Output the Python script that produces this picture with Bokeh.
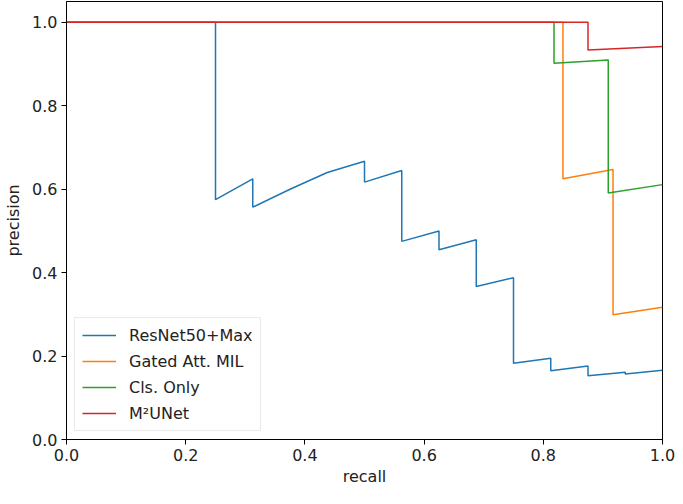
from bokeh.plotting import figure
from bokeh.models import Range1d, FixedTicker, PrintfTickFormatter, Legend, LegendItem
from bokeh.embed import file_html
from bokeh.resources import INLINE

# ---- data ----
resnet_recall = [0.0, 0.25, 0.25, 0.3125, 0.3125, 0.375, 0.4375, 0.5, 0.5, 0.5625, 0.5625,
                 0.625, 0.625, 0.6875, 0.6875, 0.75, 0.75, 0.8125, 0.8125, 0.875, 0.875,
                 0.9375, 0.9375, 1.0]
resnet_precision = [1.0, 1.0, 0.575, 0.625, 0.557, 0.600, 0.640, 0.667, 0.617, 0.645, 0.475,
                    0.500, 0.455, 0.479, 0.367, 0.388, 0.183, 0.195, 0.165, 0.176, 0.153,
                    0.161, 0.157, 0.166]

gated_recall = [0.0, 0.833, 0.833, 0.917, 0.917, 1.0]
gated_precision = [1.0, 1.0, 0.625, 0.647, 0.299, 0.317]

cls_recall = [0.0, 0.818, 0.818, 0.909, 0.909, 1.0]
cls_precision = [1.0, 1.0, 0.902, 0.910, 0.591, 0.611]

m2unet_recall = [0.0, 0.875, 0.875, 1.0]
m2unet_precision = [1.0, 1.0, 0.934, 0.942]

labels = ["ResNet50+Max", "Gated Att. MIL", "Cls. Only", "M\u00b2UNet"]
colors = ["#1f77b4", "#ff7f0e", "#2ca02c", "#d62728"]
ticks = [0.0, 0.2, 0.4, 0.6, 0.8, 1.0]

FONT = "DejaVu Sans"
FS = "16px"

p = figure(width=675, height=488, output_backend="svg", toolbar_location=None,
           x_range=Range1d(0, 1), y_range=Range1d(0, 1.05),
           min_border_left=66, min_border_right=13, min_border_top=1, min_border_bottom=46)

p.background_fill_color = "white"
p.border_fill_color = "white"
p.outline_line_color = "black"
p.outline_line_width = 1
p.xgrid.visible = False
p.ygrid.visible = False

series = [(resnet_recall, resnet_precision), (gated_recall, gated_precision),
          (cls_recall, cls_precision), (m2unet_recall, m2unet_precision)]
renderers = []
for (xs, ys), c in zip(series, colors):
    r = p.line(xs, ys, line_color=c, line_width=1.5)
    renderers.append(r)

for ax in (p.xaxis[0], p.yaxis[0]):
    ax.ticker = FixedTicker(ticks=ticks)
    ax.formatter = PrintfTickFormatter(format="%.1f")
    ax.major_tick_out = 5
    ax.major_tick_in = 0
    ax.minor_tick_line_color = None
    ax.major_label_text_font = FONT
    ax.major_label_text_font_size = FS
    ax.major_label_text_color = "#222222"
    ax.axis_label_text_font = FONT
    ax.axis_label_text_font_size = FS
    ax.axis_label_text_font_style = "normal"
    ax.axis_label_text_color = "#222222"
    ax.axis_line_color = "black"
    ax.major_tick_line_color = "black"
    ax.major_label_standoff = 4

p.xaxis[0].axis_label = "recall"
p.yaxis[0].axis_label = "precision"
p.xaxis[0].axis_label_standoff = 3
p.yaxis[0].axis_label_standoff = 6

legend = Legend(items=[LegendItem(label=l, renderers=[r]) for l, r in zip(labels, renderers)],
                location=(8, 8), margin=0, padding=7, spacing=6,
                glyph_width=34, glyph_height=20, label_height=20, label_standoff=13,
                label_text_font=FONT, label_text_font_size=FS, label_text_color="#222222",
                border_line_color="#d5d5d5", border_line_width=1,
                background_fill_color="white", background_fill_alpha=0.8)
p.add_layout(legend)

open("out.html", "w").write(file_html(p, INLINE))
